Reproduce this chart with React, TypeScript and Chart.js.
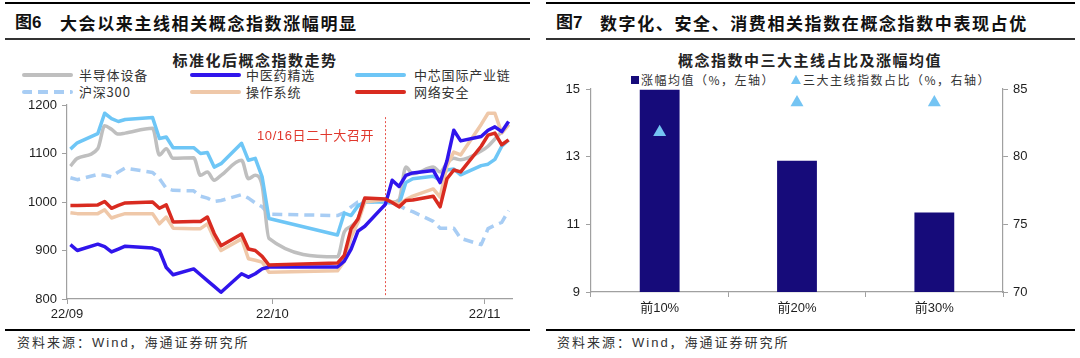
import React, { useEffect, useRef } from 'react';
import { Chart, registerables } from 'chart.js';

Chart.register(...registerables);

// ---------- Left chart data (标准化后概念指数走势) ----------
const tradeDates = [
  '2022-09-01', '2022-09-02', '2022-09-05', '2022-09-06', '2022-09-07', '2022-09-08', '2022-09-09',
  '2022-09-13', '2022-09-14', '2022-09-15', '2022-09-16',
  '2022-09-19', '2022-09-20', '2022-09-21', '2022-09-22', '2022-09-23',
  '2022-09-26', '2022-09-27', '2022-09-28', '2022-09-29', '2022-09-30',
  '2022-10-10', '2022-10-11', '2022-10-12', '2022-10-13', '2022-10-14',
  '2022-10-17', '2022-10-18', '2022-10-19', '2022-10-20', '2022-10-21',
  '2022-10-24', '2022-10-25', '2022-10-26', '2022-10-27', '2022-10-28',
  '2022-10-31', '2022-11-01', '2022-11-02', '2022-11-03', '2022-11-04',
];

const semiEquipment = [
  1074, 1090, 1110, 1157, 1150, 1140, 1142,
  1152, 1097, 1110, 1090,
  1091, 1055, 1062, 1045, 1055,
  1086, 1048, 1055, 1034, 925,
  887, 938, 950, 965, 1005,
  1003, 1000, 1005, 1072, 1058,
  1072, 1062, 1080, 1090, 1087,
  1105, 1115, 1130, 1145, 1160,
];

const tcmSelected = [
  912, 900, 913, 908, 897, 903, 909,
  905, 900, 865, 850,
  862, 850, 838, 826, 814,
  852, 845, 852, 862, 866,
  866, 878, 903, 940, 950,
  995, 1045, 1032, 1055, 1060,
  1065, 1040, 1085, 1148, 1126,
  1135, 1148, 1155, 1145, 1166,
];

const smicChain = [
  1109, 1122, 1141, 1183, 1172, 1166, 1170,
  1174, 1131, 1134, 1112,
  1112, 1100, 1102, 1072, 1079,
  1121, 1086, 1090, 1052, 966,
  932, 977, 972, 992, 1000,
  1000, 998, 995, 1040, 1048,
  1053, 1045, 1066, 1068, 1056,
  1075, 1078, 1088, 1115, 1128,
];

const csi300 = [
  1050, 1046, 1057, 1055, 1052, 1062, 1070,
  1061, 1048, 1028, 1024,
  1023, 1012, 1008, 1001, 1003,
  1015, 1008, 998, 990, 975,
  972, 978, 990, 1000, 1001,
  1000, 997, 993, 985, 980,
  960, 946, 946, 946, 925,
  912, 945, 952, 958, 982,
];

const operatingSystem = [
  978, 976, 976, 984, 967, 972, 976,
  976, 955, 969, 946,
  945, 945, 955, 924, 900,
  924, 883, 880, 876, 855,
  858, 878, 928, 958, 1000,
  1005, 1000, 995, 1005, 1012,
  1027, 1010, 1075, 1103, 1097,
  1160, 1183, 1183, 1142, 1159,
];

const cyberSecurity = [
  993, 993, 994, 1001, 987, 993, 998,
  1000, 987, 994, 959,
  960, 960, 969, 935, 910,
  934, 903, 900, 888, 870,
  874, 890, 945, 965, 1008,
  1006, 999, 990, 1003, 1004,
  1012, 990, 1048, 1066, 1062,
  1115, 1138, 1142, 1118, 1128,
];

const axisStartDate = '2022-09-01';
const axisEndDate = '2022-11-05';
const monthTickDates = ['2022-09-01', '2022-10-01', '2022-11-01'];
const monthTickLabels = ['22/09', '22/10', '22/11'];
const eventDate = '2022-10-17';
const eventLabel = '10/16日二十大召开';

// ---------- Right chart data (概念指数中三大主线占比及涨幅均值) ----------
const barCategories = ['前10%', '前20%', '前30%'];
const avgGain = [14.98, 12.88, 11.35];
const mainlineShare = [81.8, 84.0, 84.0];

// ---------- helpers ----------
const DAY_MS = 86400000;
const toUTC = (s: string) => {
  const [y, m, d] = s.split('-').map(Number);
  return Date.UTC(y, m - 1, d);
};
const dayOffset = (s: string) => (toUTC(s) - toUTC(axisStartDate)) / DAY_MS;
// each trading day is plotted in the middle of its calendar-day slot
const dayCenter = (s: string) => dayOffset(s) + 0.5;
const toPoints = (vals: number[]) => vals.map((v, i) => ({ x: dayCenter(tradeDates[i]), y: v }));

const LATIN = "'Liberation Sans', 'Noto Sans CJK SC', sans-serif";
const CJK = "'Noto Sans CJK SC', 'Liberation Sans', sans-serif";
const AXIS_COLOR = '#a0a0a0';
const TEXT_COLOR = '#1e1e1e';

const seriesMeta = [
  { label: '半导体设备', data: semiEquipment, color: '#bfbfbf', dash: false, order: 5, mono: true },
  { label: '中医药精选', data: tcmSelected, color: '#3015ec', dash: false, order: 2, mono: false },
  { label: '中芯国际产业链', data: smicChain, color: '#6ec6f6', dash: false, order: 4, mono: false },
  { label: '沪深300', data: csi300, color: '#a8cdf4', dash: true, order: 6, mono: false },
  { label: '操作系统', data: operatingSystem, color: '#efc8a9', dash: false, order: 3, mono: false },
  { label: '网络安全', data: cyberSecurity, color: '#d92b20', dash: false, order: 1, mono: false },
];

const eventLinePlugin = {
  id: 'eventLine',
  beforeDatasetsDraw(chart: any) {
    const xs = chart.scales.x;
    const ys = chart.scales.y;
    const x = Math.round(xs.getPixelForValue(dayCenter(eventDate))) + 0.5;
    const ctx = chart.ctx;
    ctx.save();
    ctx.strokeStyle = '#e8544a';
    ctx.lineWidth = 1;
    ctx.setLineDash([2, 2]);
    ctx.beginPath();
    ctx.moveTo(x, ys.getPixelForValue(1175));
    ctx.lineTo(x, chart.chartArea.bottom - 3);
    ctx.stroke();
    ctx.restore();
  },
};

const zeroPad = (s: any) => {
  s.paddingTop = 0;
  s.paddingBottom = 0;
  s.paddingLeft = 0;
  s.paddingRight = 0;
};

const plainNumber = (v: any) => String(v);

export default function App() {
  const lineRef = useRef<HTMLCanvasElement>(null);
  const barRef = useRef<HTMLCanvasElement>(null);

  useEffect(() => {
    const tickFont = { family: LATIN, size: 13 };
    const lineChart = new Chart(lineRef.current as HTMLCanvasElement, {
      type: 'line',
      data: {
        datasets: seriesMeta.map((m) => ({
          label: m.label,
          data: toPoints(m.data),
          borderColor: m.color,
          backgroundColor: m.color,
          borderWidth: 3.5,
          borderDash: m.dash ? [10, 6] : [],
          pointRadius: 0,
          borderJoinStyle: 'round',
          tension: 0,
          cubicInterpolationMode: m.mono ? 'monotone' : 'default',
          order: m.order,
        })) as any,
      },
      options: {
        responsive: false,
        animation: false,
        layout: { padding: { top: 5, right: 18, left: 0, bottom: 0 } },
        plugins: { legend: { display: false }, title: { display: false }, tooltip: { enabled: false } },
        scales: {
          x: {
            type: 'linear',
            min: dayOffset(axisStartDate),
            max: dayOffset(axisEndDate),
            afterBuildTicks: (scale: any) => {
              scale.ticks = monthTickDates.map((d) => ({ value: dayOffset(d) }));
            },
            ticks: {
              autoSkip: false,
              maxRotation: 0,
              padding: 3,
              color: TEXT_COLOR,
              font: tickFont,
              callback: (_v: any, i: number) => monthTickLabels[i],
            },
            grid: { drawOnChartArea: false, tickLength: 5, color: AXIS_COLOR },
            border: { color: AXIS_COLOR, width: 1.2 },
            afterFit: (s: any) => {
              s.height = 29;
              zeroPad(s);
            },
          },
          y: {
            min: 800,
            max: 1200,
            ticks: { stepSize: 100, padding: 5, color: TEXT_COLOR, font: tickFont, callback: plainNumber },
            grid: { drawOnChartArea: false, tickLength: 5, color: AXIS_COLOR },
            border: { color: AXIS_COLOR, width: 1.2 },
            afterFit: (s: any) => {
              s.width = 67;
              zeroPad(s);
            },
          },
        },
      } as any,
      plugins: [eventLinePlugin],
    });

    const barChart = new Chart(barRef.current as HTMLCanvasElement, {
      type: 'bar',
      data: {
        labels: barCategories,
        datasets: [
          {
            type: 'line',
            label: '三大主线指数占比（%，右轴）',
            data: mainlineShare,
            yAxisID: 'y2',
            showLine: false,
            pointStyle: 'triangle',
            pointRadius: 7.5,
            pointBackgroundColor: '#74c4f3',
            pointBorderColor: '#74c4f3',
            pointBorderWidth: 0,
            order: 0,
          },
          {
            type: 'bar',
            label: '涨幅均值（%，左轴）',
            data: avgGain,
            yAxisID: 'y',
            backgroundColor: '#160b7a',
            barPercentage: 0.29,
            categoryPercentage: 1,
            order: 1,
          },
        ] as any,
      },
      options: {
        responsive: false,
        animation: false,
        layout: { padding: { top: 9, right: 0, left: 0, bottom: 0 } },
        plugins: { legend: { display: false }, title: { display: false }, tooltip: { enabled: false } },
        scales: {
          x: {
            ticks: { padding: 4, color: TEXT_COLOR, font: { family: LATIN, size: 13 } },
            grid: { drawOnChartArea: false, tickLength: 5, color: AXIS_COLOR, offset: true },
            border: { color: AXIS_COLOR, width: 1.2 },
            afterFit: (s: any) => {
              s.height = 28;
              zeroPad(s);
            },
          },
          y: {
            position: 'left',
            min: 9,
            max: 15,
            ticks: { stepSize: 2, padding: 6, color: TEXT_COLOR, font: { family: LATIN, size: 13 }, callback: plainNumber },
            grid: { drawOnChartArea: false, tickLength: 5, color: AXIS_COLOR },
            border: { color: AXIS_COLOR, width: 1.2 },
            afterFit: (s: any) => {
              s.width = 51;
              zeroPad(s);
            },
          },
          y2: {
            position: 'right',
            min: 70,
            max: 85,
            ticks: { stepSize: 5, padding: 5, color: TEXT_COLOR, font: { family: LATIN, size: 13 }, callback: plainNumber },
            grid: { drawOnChartArea: false, tickLength: 5, color: AXIS_COLOR },
            border: { color: AXIS_COLOR, width: 1.2 },
            afterFit: (s: any) => {
              s.width = 77;
              zeroPad(s);
            },
          },
        },
      } as any,
    });

    return () => {
      lineChart.destroy();
      barChart.destroy();
    };
  }, []);

  const abs = (o: any): React.CSSProperties => ({ position: 'absolute', ...o });

  const rule = (left: number, top: number, width: number, h: number, color: string) => (
    <div style={abs({ left, top, width, height: h, background: color })} />
  );

  const legendItem = (
    m: (typeof seriesMeta)[number],
    sampleLeft: number,
    textLeft: number,
    cy: number
  ) => (
    <React.Fragment key={m.label}>
      <div
        style={abs({
          left: sampleLeft,
          top: cy - 2,
          width: 51,
          height: 4,
          borderRadius: 2,
          background: m.dash
            ? `repeating-linear-gradient(to right, ${m.color} 0px, ${m.color} 10px, transparent 10px, transparent 16px)`
            : m.color,
        })}
      />
      <div
        style={abs({
          left: textLeft,
          top: cy - 10,
          lineHeight: '20px',
          fontSize: 13,
          letterSpacing: '0.8px',
          color: '#333',
          fontFamily: CJK,
          whiteSpace: 'nowrap',
        })}
      >
        {m.label}
      </div>
    </React.Fragment>
  );

  const colSample = [22, 190, 355];
  const colText = [79, 246, 414];
  const rowY = [75, 92];

  const headerNum: React.CSSProperties = {
    fontSize: 17,
    fontWeight: 700,
    fontFamily: LATIN,
    lineHeight: '22px',
    color: '#111',
    whiteSpace: 'nowrap',
  };
  const headerTxt: React.CSSProperties = {
    fontSize: 17,
    fontWeight: 700,
    fontFamily: CJK,
    lineHeight: '22px',
    letterSpacing: '1.6px',
    color: '#111',
    whiteSpace: 'nowrap',
  };
  const sourceStyle: React.CSSProperties = {
    fontSize: 13,
    fontFamily: LATIN,
    lineHeight: '18px',
    letterSpacing: '2px',
    color: '#333',
    whiteSpace: 'nowrap',
  };
  const chartTitle: React.CSSProperties = {
    fontSize: 15,
    fontWeight: 700,
    fontFamily: CJK,
    lineHeight: '20px',
    letterSpacing: '1.5px',
    color: '#222',
    whiteSpace: 'nowrap',
    textAlign: 'center',
  };

  return (
    <div
      style={{
        position: 'fixed',
        left: 0,
        top: 0,
        width: 1080,
        height: 358,
        background: '#fff',
        overflow: 'hidden',
        fontFamily: CJK,
      }}
    >
      {/* ---------- left panel ---------- */}
      {rule(5, 2, 525, 2, '#000')}
      <div style={abs({ ...headerNum, left: 15, top: 12 })}>图6</div>
      <div style={abs({ ...headerTxt, left: 60, top: 12 })}>大会以来主线相关概念指数涨幅明显</div>
      {rule(5, 38, 525, 1.5, '#333')}
      <div style={abs({ ...chartTitle, left: 150, width: 210, top: 50 })}>标准化后概念指数走势</div>
      {seriesMeta.map((m, i) => legendItem(m, colSample[i % 3], colText[i % 3], rowY[Math.floor(i / 3)]))}
      <canvas ref={lineRef} width={530} height={228} style={abs({ left: 0, top: 100, width: 530, height: 228 })} />
      <div
        style={abs({
          left: 257,
          top: 127,
          fontSize: 13,
          lineHeight: '18px',
          fontFamily: LATIN,
          color: '#e0372c',
          letterSpacing: '0.6px',
          whiteSpace: 'nowrap',
        })}
      >
        {eventLabel}
      </div>
      {rule(5, 329, 525, 1.5, '#000')}
      <div style={abs({ ...sourceStyle, left: 17, top: 334 })}>资料来源：Wind，海通证券研究所</div>

      {/* ---------- right panel ---------- */}
      {rule(546, 2, 529, 2, '#000')}
      <div style={abs({ ...headerNum, left: 556, top: 12 })}>图7</div>
      <div style={abs({ ...headerTxt, left: 600, top: 12 })}>数字化、安全、消费相关指数在概念指数中表现占优</div>
      {rule(546, 38, 529, 1.5, '#333')}
      <div style={abs({ ...chartTitle, left: 660, width: 300, top: 50 })}>概念指数中三大主线占比及涨幅均值</div>
      <div style={abs({ left: 631, top: 76, width: 8, height: 8, background: '#160b7a' })} />
      <div
        style={abs({
          left: 641,
          top: 71,
          fontSize: 12,
          lineHeight: '18px',
          letterSpacing: '1.5px',
          fontFamily: CJK,
          color: '#333',
          whiteSpace: 'nowrap',
        })}
      >
        涨幅均值（%，左轴）
      </div>
      <div
        style={abs({
          left: 791,
          top: 75,
          width: 0,
          height: 0,
          borderLeft: '5px solid transparent',
          borderRight: '5px solid transparent',
          borderBottom: '9px solid #74c4f3',
        })}
      />
      <div
        style={abs({
          left: 803,
          top: 71,
          fontSize: 12,
          lineHeight: '18px',
          letterSpacing: '1.5px',
          fontFamily: CJK,
          color: '#333',
          whiteSpace: 'nowrap',
        })}
      >
        三大主线指数占比（%，右轴）
      </div>
      <canvas ref={barRef} width={540} height={240} style={abs({ left: 540, top: 80, width: 540, height: 240 })} />
      {rule(546, 329, 529, 1.5, '#000')}
      <div style={abs({ ...sourceStyle, left: 557, top: 334 })}>资料来源：Wind，海通证券研究所</div>
    </div>
  );
}
